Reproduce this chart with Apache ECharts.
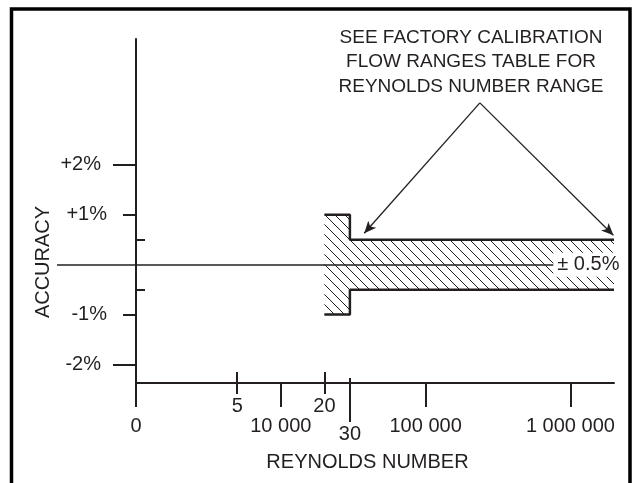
<!DOCTYPE html>
<html>
<head>
<meta charset="utf-8">
<title>Accuracy vs Reynolds number</title>
<script src="https://cdn.jsdelivr.net/npm/echarts/dist/echarts.min.js"></script>
<style>
  html, body { margin: 0; padding: 0; background: #fff; }
  #chart { width: 636px; height: 483px; }
</style>
</head>
<body>
<div id="chart"></div>
<script>
// accuracy limit (+/- %) that starts at each Reynolds number
var reBreaks = [20000, 30000, 2000000];
var accLimit = [1, 0.5, 0.5];

// axis ranges (log axis has no 0, its origin is labelled "0")
var reMin = 1000;
var reMax = 2000000;
var accMin = -2.37;
var accMax = 4.52;

// x ticks: lower row, upper row, and the 30 000 break
var reTicksLow = [1000, 10000, 100000, 1000000];
var reLabelsLow = ['0', '10 000', '100 000', '1 000 000'];
var reTicksUp = [5000, 20000];
var reLabelsUp = ['5', '20'];
var reTicksMid = [30000];
var reLabelsMid = ['30'];

// y ticks
var accTicksBig = [2, -2];
var accLabelsBig = ['+2%', '-2%'];
var accTicksMid = [1, -1];
var accLabelsMid = ['+1%', '-1%'];
var accTicksSmall = [0.5, -0.5];
var accTicksZero = [0];

// callout
var noteLines = ['SEE FACTORY CALIBRATION', 'FLOW RANGES TABLE FOR', 'REYNOLDS NUMBER RANGE'];
var arrowFrom = [237000, 3.24];
var arrowTo = [[37700, 0.63], [1980000, 0.59]];
var bandLabel = '± 0.5%';

var ink = '#231f20';
var font = '"Liberation Sans", Arial, Helvetica, sans-serif';

function pick(ticks, labels, rel) {
    return function (v) {
        for (var i = 0; i < ticks.length; i++) {
            var d = Math.abs(ticks[i] - v);
            if (rel ? d / Math.abs(ticks[i]) < 1e-3 : d < 1e-6) return labels[i];
        }
        return '';
    };
}

function xAx(ticks, labels, o) {
    return {
        type: 'log', logBase: 10, min: reMin, max: reMax, position: 'bottom',
        axisLine: { show: !!o.line, onZero: false, lineStyle: { color: ink, width: 2 } },
        axisTick: { show: true, customValues: ticks, inside: !!o.inside, length: o.len,
                    lineStyle: { color: ink, width: 2 } },
        axisLabel: { show: !!labels, customValues: ticks, margin: o.margin || 8,
                     formatter: labels ? pick(ticks, labels, true) : '',
                     color: ink, fontSize: 20, fontFamily: font },
        splitLine: { show: false }
    };
}

function yAx(ticks, labels, o) {
    return {
        type: 'value', min: accMin, max: accMax, position: 'left',
        axisLine: { show: !!o.line, onZero: false, lineStyle: { color: ink, width: 2 } },
        axisTick: { show: true, customValues: ticks, inside: !!o.inside, length: o.len,
                    lineStyle: { color: ink, width: o.w || 2 } },
        axisLabel: { show: !!labels, customValues: ticks, margin: o.margin || 8,
                     formatter: labels ? pick(ticks, labels, false) : '',
                     color: ink, fontSize: 20, fontFamily: font },
        splitLine: { show: false }
    };
}

// diagonal hatch tile
function makeHatch(step) {
    var c = document.createElement('canvas');
    c.width = step; c.height = step;
    var g = c.getContext('2d');
    g.strokeStyle = ink;
    g.lineWidth = 1;
    g.beginPath();
    g.moveTo(-1, -1); g.lineTo(step + 1, step + 1);
    g.moveTo(-1, step - 1); g.lineTo(1, step + 1);
    g.moveTo(step - 1, -1); g.lineTo(step + 1, 1);
    g.stroke();
    return c;
}
var hatch = makeHatch(10);

var chart = echarts.init(document.getElementById('chart'), null, { renderer: 'canvas' });

var xMain = xAx(reTicksLow, reLabelsLow, { line: true, len: 24, margin: 33 });
xMain.name = 'REYNOLDS NUMBER';
xMain.nameLocation = 'middle';
xMain.nameGap = 69;
xMain.nameMoveOverlap = false;
xMain.nameTextStyle = { color: ink, fontSize: 20, fontFamily: font, padding: [0, 15, 0, 0] };

var option = {
    animation: false,
    backgroundColor: '#fff',
    grid: { left: 136, right: 22, top: 39, bottom: 100, containLabel: false, outerBoundsMode: 'none' },
    xAxis: [
        xMain,
        xAx(reTicksUp, reLabelsUp, { len: 11, margin: 13 }),
        xAx(reTicksUp, null, { len: 11, inside: true }),
        xAx(reTicksMid, reLabelsMid, { len: 39, margin: 41 }),
        xAx(reTicksMid, null, { len: 5, inside: true })
    ],
    yAxis: [
        yAx(accTicksBig, accLabelsBig, { line: true, len: 23, margin: 35 }),
        yAx(accTicksMid, accLabelsMid, { len: 13, margin: 29 }),
        yAx(accTicksSmall, null, { len: 9, inside: true }),
        yAx(accTicksZero, null, { len: 79, w: 1.5 })
    ],
    graphic: [
        { type: 'polyline', z: 100, silent: true,
          shape: { points: [[11.5, 483], [11.5, 9], [630, 9], [630, 483]] },
          style: { stroke: '#000', lineWidth: 3.5, fill: null } },
        { type: 'text', x: 43, y: 262, rotation: Math.PI / 2, silent: true,
          style: { text: 'ACCURACY', fill: ink, font: '20px ' + font, align: 'center', verticalAlign: 'middle' } },
        { type: 'text', x: 471, y: 25, silent: true,
          style: { text: noteLines.join('\n'), fill: ink, font: '19px ' + font, lineHeight: 24.7,
                   align: 'center', verticalAlign: 'top' } }
    ],
    series: [
        {
            // hatched accuracy band
            type: 'custom', z: 1, silent: true,
            data: [[reBreaks[0], 0]],
            renderItem: function (params, api) {
                var top = [], bot = [];
                for (var i = 0; i < reBreaks.length; i++) {
                    top.push(api.coord([reBreaks[i], accLimit[i]]));
                    bot.push(api.coord([reBreaks[i], -accLimit[i]]));
                    if (i + 1 < reBreaks.length) {
                        top.push(api.coord([reBreaks[i + 1], accLimit[i]]));
                        bot.push(api.coord([reBreaks[i + 1], -accLimit[i]]));
                    }
                }
                return {
                    type: 'polygon',
                    shape: { points: top.concat(bot.reverse()) },
                    style: { fill: { image: hatch, repeat: 'repeat' } }
                };
            }
        },
        {
            type: 'line', step: 'end', z: 3, silent: true, symbol: 'none',
            data: reBreaks.map(function (r, i) { return [r, accLimit[i]]; }),
            lineStyle: { color: ink, width: 2.5 },
            markLine: {
                silent: true, symbol: 'none', label: { show: false },
                lineStyle: { color: ink, width: 1.5, type: 'solid' },
                emphasis: { disabled: true },
                data: [{ yAxis: 0 }]
            }
        },
        {
            type: 'line', step: 'end', z: 3, silent: true, symbol: 'none',
            data: reBreaks.map(function (r, i) { return [r, -accLimit[i]]; }),
            lineStyle: { color: ink, width: 2.5 },
            markLine: {
                silent: true, symbol: ['none', 'arrow'], symbolSize: [8, 12],
                label: { show: false },
                lineStyle: { color: ink, width: 1.3, type: 'solid' },
                itemStyle: { color: ink },
                emphasis: { disabled: true },
                data: arrowTo.map(function (t) { return [{ coord: arrowFrom }, { coord: t }]; })
            }
        },
        {
            type: 'line', z: 10, silent: true, symbol: 'none',
            data: [[reMax, 0]],
            lineStyle: { width: 0 },
            markPoint: {
                silent: true, symbol: 'rect', symbolSize: 1,
                itemStyle: { color: 'rgba(0,0,0,0)' },
                label: { show: true, position: 'left', distance: -10, formatter: bandLabel,
                         backgroundColor: '#fff', padding: [2, 4], color: ink,
                         fontSize: 20, fontFamily: font },
                data: [{ coord: [reMax * 0.999, 0] }]
            }
        }
    ]
};

chart.setOption(option);
</script>
</body>
</html>
